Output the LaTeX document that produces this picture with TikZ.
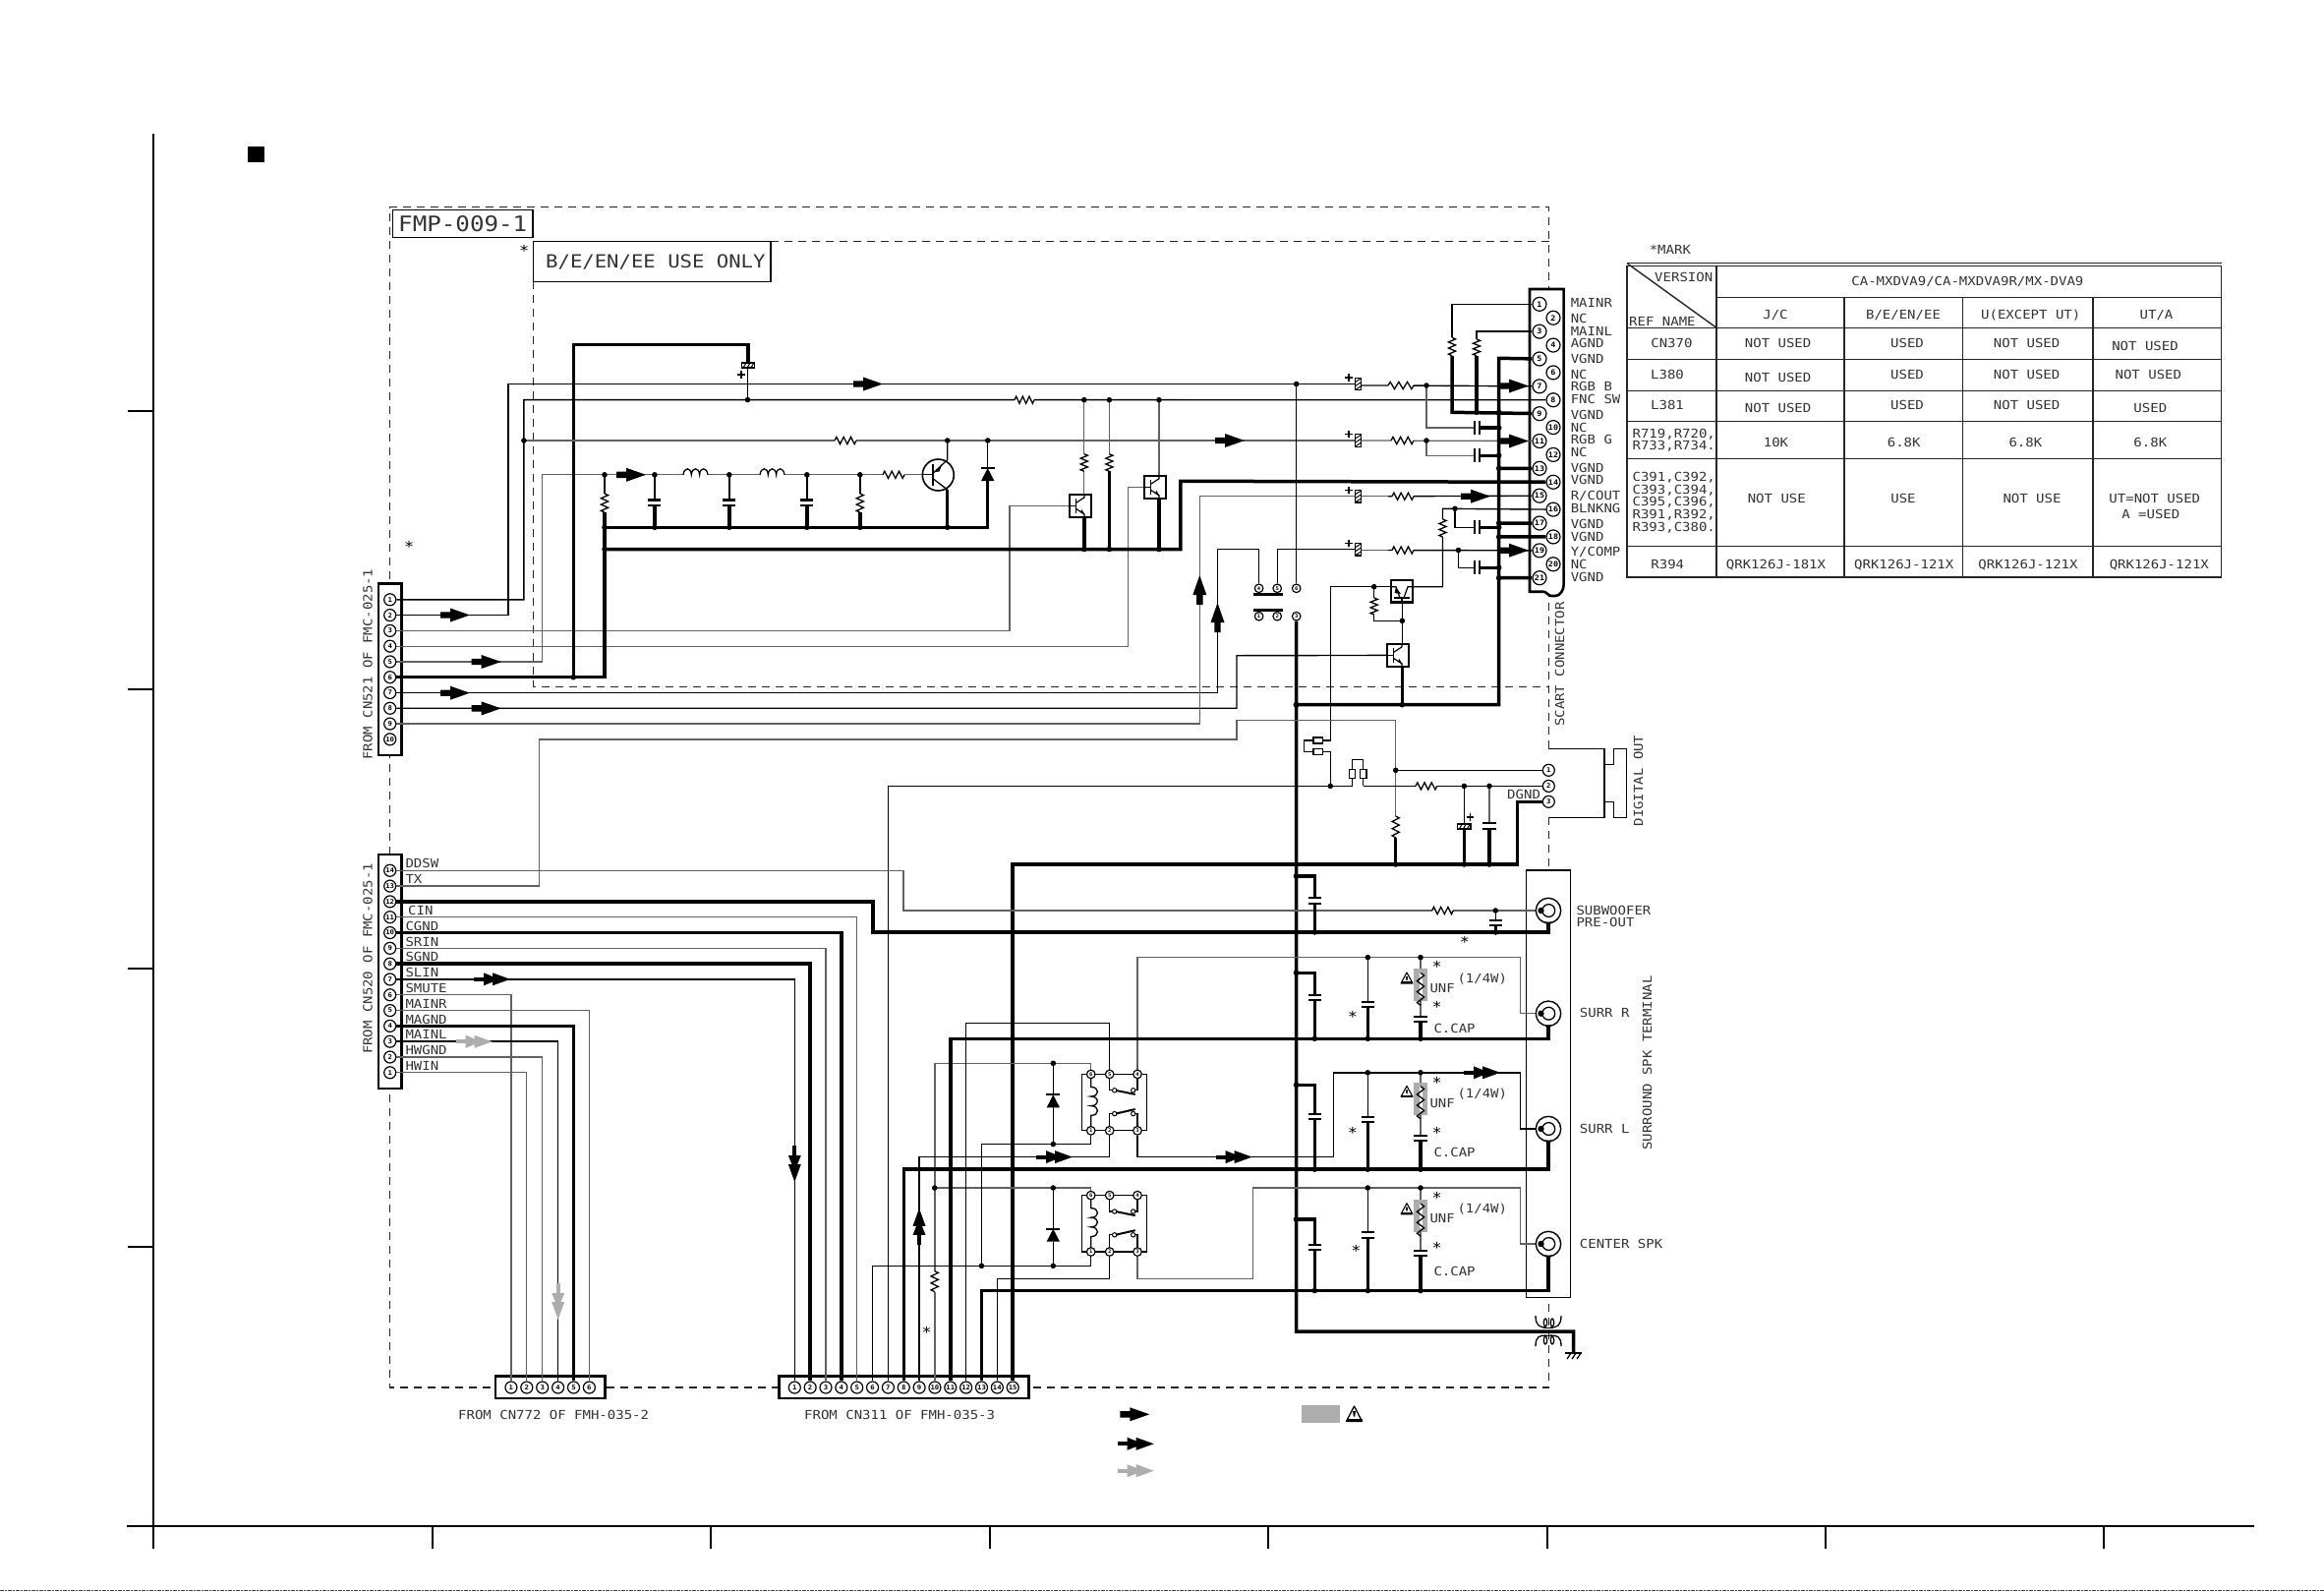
\documentclass[tikz,border=0pt]{standalone}
\usepackage{fontspec}
\setmainfont[FakeStretch=1.12]{DejaVu Sans Mono}
\pgfdeclarelayer{under}\pgfdeclarelayer{wires}\pgfsetlayers{under,wires,main}
\tikzset{
 bw/.style={line width=1.4pt,black,line join=miter},
 gw/.style={line width=1.3pt,black!62,line join=miter},
 tw/.style={line width=3.5pt,black,line join=miter},
 frameln/.style={line width=1.4pt,black!85,dash pattern=on 8pt off 6pt},
 boxln/.style={line width=2.6pt,black,fill=white},
 thinbox/.style={line width=1.5pt,black,fill=white},
 lbl/.style={inner sep=0pt,font=\fontsize{12.5}{14}\selectfont,text height=9pt,text depth=0pt,text=black!80},
 pinc/.style={circle,draw=black,line width=1.2pt,fill=white,inner sep=0pt,minimum size=12pt,font=\bfseries\fontsize{6.5}{7}\selectfont},
 spin/.style={pinc,minimum size=14pt,font=\bfseries\fontsize{7.5}{8}\selectfont},
 rpin/.style={pinc,minimum size=8.6pt,font=\bfseries\fontsize{5}{5.5}\selectfont},
 jacknode/.style={circle,draw=black,line width=1.4pt,fill=white,inner sep=0pt,minimum size=25.4pt},
 trbox/.style={rectangle,draw=black,line width=2.2pt,fill=white,inner sep=0pt,minimum width=22pt,minimum height=22.7pt},
 plate/.style={line width=2.2pt,black},
 rs/.style={line width=1.3pt,black,line join=miter},
 tbl/.style={line width=1.4pt,black!85},
}
\newcount\ztc
\newcommand\zT[4][west]{\global\advance\ztc by 1 \node[lbl,anchor=#1] (txt\the\ztc) at (#2,#3) {#4};}
\newcommand\zTr[3]{\global\advance\ztc by 1 \node[lbl,rotate=90,anchor=center] (txt\the\ztc) at (#1,#2) {#3};}
\newcommand\zStar[2]{\global\advance\ztc by 1 \node[lbl,anchor=center,yshift=-2.5pt,font=\fontsize{15}{15}\selectfont,text=black] (txt\the\ztc) at (#1,#2) {*};}
\newcommand\zJ[2]{\fill[black] (#1,#2) circle (2.8pt);}
\newcommand\zRh[3]{\pgfmathsetmacro\zzd{(#2-#1)/6}\draw[white,line width=3pt](#1,#3)--(#2,#3);\draw[rs](#1,#3)--++(\zzd/2,-3.6)--++(\zzd,7.2)--++(\zzd,-7.2)--++(\zzd,7.2)--++(\zzd,-7.2)--++(\zzd,7.2)--++(\zzd/2,-3.6);}
\newcommand\zRv[3]{\pgfmathsetmacro\zzd{(#3-#2)/6}\draw[white,line width=3pt](#1,#2)--(#1,#3);\draw[rs](#1,#2)--++(3.6,\zzd/2)--++(-7.2,\zzd)--++(7.2,\zzd)--++(-7.2,\zzd)--++(7.2,\zzd)--++(-7.2,\zzd)--++(3.6,\zzd/2);}
\newcommand\zCv[4]{\fill[white](#1-#4,#2)rectangle(#1+#4,#3);\draw[plate](#1-#4,#2)--(#1+#4,#2);\draw[plate](#1-#4,#3)--(#1+#4,#3);}
\newcommand\zCh[4]{\fill[white](#1,#3-#4)rectangle(#2,#3+#4);\draw[plate](#1,#3-#4)--(#1,#3+#4);\draw[plate](#2,#3-#4)--(#2,#3+#4);}
\newcommand\zEh[2]{\draw[fill=white,line width=1.1pt](#1,#2-6.3)rectangle(#1+6.2,#2+6.3);
 \draw[line width=1pt](#1,#2-2)--(#1+6.2,#2-6)(#1,#2+2)--(#1+6.2,#2-2)(#1,#2+6)--(#1+6.2,#2+2);
 \draw[line width=1.2pt](#1-10.5,#2-6.5)--(#1-3,#2-6.5)(#1-6.7,#2-10.2)--(#1-6.7,#2-2.8);}
\newcommand\zEv[2]{\draw[fill=white,line width=1.1pt](#1-6.7,#2)rectangle(#1+6.7,#2+5);
 \draw[line width=1pt](#1-5,#2+5)--(#1-2,#2)(#1-1,#2+5)--(#1+2,#2)(#1+3,#2+5)--(#1+6,#2);}
\newcommand\zLh[3]{\draw[white,line width=3pt](#1,#3)--(#1+25,#3);\draw[rs](#1,#3)..controls(#1+1,#3-8)and(#1+8,#3-8)..(#1+8.3,#3)..controls(#1+9,#3-8)and(#1+16,#3-8)..(#1+16.6,#3)..controls(#1+17,#3-8)and(#1+24,#3-8)..(#1+25,#3);}
\newcommand\zAS[4][black]{\begin{scope}[shift={(#2,#3)},rotate=#4]\fill[#1](0,-3.2)--(10,-3.2)--(10,-7)--(30,0)--(10,7)--(10,3.2)--(0,3.2)--cycle;\end{scope}}
\newcommand\zAD[4][black]{\begin{scope}[shift={(#2,#3)},rotate=#4]\fill[#1](0,-2)rectangle(14,2);\fill[#1](10,-6.5)--(26,0)--(10,6.5)--cycle;\fill[#1](19,-6.5)--(37,0)--(19,6.5)--cycle;\end{scope}}
\newcommand\zWarn[2]{\draw[line width=1.1pt,black,line join=round](#1,#2-6)--(#1-6,#2+5)--(#1+6,#2+5)--cycle;\fill[black](#1-1,#2-2)--(#1+1,#2-2)--(#1+0.6,#2+2)--(#1-0.6,#2+2)--cycle;\fill[black](#1-6,#2+3.2)rectangle(#1+6,#2+5.2);}
\newcommand\zQ[3]{\node[trbox] (#1) at (#2,#3) {};
 \begin{scope}[shift={(#2,#3)}]
 \draw[line width=1.2pt](-11,0)--(-4.5,0);\draw[line width=1.8pt](-4.5,-7.5)--(-4.5,7.5);
 \draw[line width=1.2pt](-4.5,-3)--(4,-8.5)--(4,-11.3);\draw[line width=1.2pt](-4.5,3)--(4,8.5)--(4,11.3);
 \fill[black](0,6.4)--(4.6,9.2)--(1.3,3.6)--cycle;
 \end{scope}}
\newcommand\zRelay[3]{\begin{scope}[shift={(#2,#3)}]
 \draw[rs](-9.5,0)--(47.3,0)(-9.5,0)--(-9.5,57.4)--(57,57.4)--(57,0)--(47.3,0);
 \draw[rs](0,0)--(0,13)..controls(9,13)and(9,22.6)..(0,22.6)..controls(9,22.6)and(9,32.2)..(0,32.2)..controls(9,32.2)and(9,42)..(0,42)--(0,57.4);
 \draw[rs](19,0)--(19,16.4)--(24,16.4)(47.3,0)--(47.3,16.4)--(43,16.4);
 \draw[rs](19,57.4)--(19,40.2)--(24,40.2)(47.3,57.4)--(47.3,40.2)--(43,40.2);
 \draw[line width=2pt](25,16.4)--(45,20.5)(25,40.2)--(45,35.6);
 \draw[line width=1pt,fill=white](24,16.4)circle(2.2pt)(43,16.4)circle(2.2pt)(24,40.2)circle(2.2pt)(43,40.2)circle(2.2pt);
 \node[rpin](#1p6)at(0,0){6};\node[rpin](#1p5)at(19,0){5};\node[rpin](#1p4)at(47.3,0){4};
 \node[rpin](#1p1)at(0,57.4){1};\node[rpin](#1p2)at(19,57.4){2};\node[rpin](#1p3)at(47.3,57.4){3};
 \end{scope}}
\newcommand\zDiode[2]{\fill[white](#1-7,#2)rectangle(#1+7,#2+13);\fill[black](#1,#2)--(#1-6.7,#2+13)--(#1+6.7,#2+13)--cycle;\draw[line width=2pt](#1-7,#2)--(#1+7,#2);}
\newcommand\zJack[3]{\node[jacknode](#1)at(#2,#3){};
 \draw[line width=1.3pt,fill=white](#2+0.3,#3)circle(6.4pt);
 \fill[black](#2-7.5,#3)circle(3.2pt);
 \fill[black](#2-4,#3+11.6)--(#2+4,#3+11.6)--(#2,#3+16)--cycle;}
\newcommand\zUNF[2]{\fill[black!32](#1-7.2,#2)rectangle(#1+7.2,#2+33);\zRv{#1}{#2+4}{#2+29}}
\begin{document}
\begin{tikzpicture}[x=1pt,y=-1pt]
\useasboundingbox (0,0) rectangle (2364,1618);
\begin{pgfonlayer}{under}
\fill[white](0,0)rectangle(2364,1618);
\draw[line width=2pt](155.8,136)--(155.8,1575);
\draw[line width=2pt](129,1552)--(2293,1552);
\foreach \yy in {418,701,985,1268}{\draw[line width=2pt](130,\yy)--(155.8,\yy);}
\foreach \xx in {439.5,722.5,1006.5,1289.5,1573.5,1856.5,2140}{\draw[line width=2pt](\xx,1552)--(\xx,1575);}
\fill[black](252,149)rectangle(269,165);
\draw[line width=1pt,black!75,dash pattern=on 4pt off 1pt on 2pt off 1pt](0,1617.3)--(2364,1617.3);
\draw[frameln](1575.5,761.3)--(1575.5,210.7)--(396.7,210.7)--(396.7,1411)--(1575.5,1411)--(1575.5,1325);
\draw[frameln](1575.5,831.3)--(1575.5,885);
\draw[frameln](783.8,245.5)--(1575.5,245.5);
\draw[frameln](542.7,286.4)--(542.7,698.2)--(1575.5,698.2);
\draw[thinbox](399.4,213.7)rectangle(542,241.7);
\draw[thinbox](542.7,245.5)rectangle(783.8,286.4);
\draw[boxln](385,593.7)rectangle(408.3,768);
\draw[boxln](385,868.8)rectangle(408.3,1106.8);
\draw[boxln](503.8,1399.6)rectangle(615.4,1421.9);
\draw[boxln](792.2,1399.6)rectangle(1046.3,1421.9);
\draw[boxln](1556,294)--(1590.6,294)--(1590.6,595)..controls(1590.6,600)and(1587,606)..(1582,606)--(1578,606)..controls(1575,606)and(1573,601.7)..(1570,601.7)--(1556,601.7)--cycle;
\draw[thinbox](1552.7,885)rectangle(1597.3,1319.3);
\draw[line width=1.5pt](1575.3,761.3)--(1632,761.3)--(1632,831.3)--(1575.3,831.3);
\draw[line width=1.5pt](1632,777.3)--(1641.7,777.3)--(1641.7,761.3)--(1654.7,761.3)--(1654.7,831.3)--(1641.7,831.3)--(1641.7,815.3)--(1632,815.3);
\end{pgfonlayer}
\foreach \i in {1,...,10}{\pgfmathsetmacro\yy{609.8+15.78*(\i-1)}\node[pinc](a\i)at(396.7,\yy){\i};}
\foreach \i in {1,...,14}{\pgfmathsetmacro\yy{1090.8-15.81*(\i-1)}\node[pinc](b\i)at(396.7,\yy){\i};}
\foreach \i in {1,...,6}{\pgfmathsetmacro\xx{519.9+15.9*(\i-1)}\node[pinc](e\i)at(\xx,1411){\i};}
\foreach \i in {1,...,15}{\pgfmathsetmacro\xx{808.3+15.85*(\i-1)}\node[pinc](c\i)at(\xx,1411){\i};}
\foreach \i in {1,...,21}{\pgfmathsetmacro\yy{309.3+13.92*(\i-1)}\pgfmathsetmacro\xx{ifthenelse(mod(\i,2)==1,1566,1580)}\node[spin](s\i)at(\xx,\yy){\i};}
\node[pinc](d1)at(1575.3,783.3){1};\node[pinc](d2)at(1575.3,799.4){2};\node[pinc](d3)at(1575.3,815.3){3};
\node[rpin](m4)at(1280.6,598.3){4};\node[rpin](m5)at(1299.2,598.3){5};\node[rpin](m6)at(1318.7,598.3){6};
\node[rpin](m1)at(1280.6,626.7){1};\node[rpin](m2)at(1299.2,626.7){2};\node[rpin](m3)at(1318.7,626.7){3};
\draw[line width=3pt](1275,604.3)--(1305,604.3)(1275,620.3)--(1305,620.3);
\zJack{js}{1575}{926}\zJack{jr}{1575}{1030.7}\zJack{jl}{1575}{1148}\zJack{jc}{1575}{1265}
\zQ{q1}{1099}{514.4}\zQ{q2}{1175}{495.3}\zQ{q3}{1422}{666.4}
\node[trbox](q4)at(1426,601.2){};
\draw[line width=1.2pt](1415,596.7)--(1420,596.7)--(1424,608)(1437,596.7)--(1432,596.7)--(1428,608);
\draw[line width=1.8pt](1418,608)--(1434,608);\draw[line width=1.2pt](1426,608)--(1426,612.3);
\fill[black](1420,597)--(1425,604)--(1418.5,603)--cycle;
\zRelay{ra}{1109.7}{1092.4}\zRelay{rb}{1109.7}{1215.6}
\begin{pgfonlayer}{wires}
\draw[bw](a1)-|(532.9,406.6)--(s8);
\draw[bw](a2)-|(516.8,390.5)--(1378,390.5);
\draw[gw](1385,392)--(1412,392);\draw[bw](1412,392)--(s7);
\draw[gw](a3)-|(1027,514.4)--(q1.west);
\draw[gw](a4)-|(1147.4,495.3)--(q2.west);
\draw[gw](a5)-|(551.6,482.8)--(938,482.8);
\draw[tw](a6)-|(615,521);
\draw[tw](615,536.3)--(1004.7,536.3)--(1004.7,488.5);
\draw[tw](615,558.5)--(1200.8,558.5)--(1200.8,489.3)--(s14);
\draw[tw](583.3,688.7)--(583.3,350.7)--(761,350.7)--(761,368);
\draw[bw](760.5,375)--(760.5,406.6);
\draw[gw](532.9,448)--(1378,448);\draw[gw](1385,448)--(s11);
\draw[bw](1004.7,448)--(1004.7,476);
\draw[bw](a7)-|(1238.5,558.7)-|(m4);
\draw[bw](a8)-|(1258,666.7)--(q3.west);
\draw[gw](a9)-|(1220.3,504.7)--(1378,504.7);
\draw[gw](1385,504.7)--(1412,504.7);\draw[bw](1412,504.7)--(s15);
\draw[bw](m5)|-(1378,558.7);
\draw[gw](1385,559.5)--(1412,559.5);\draw[bw](1412,559.5)--(s19);
\draw[bw](1318.7,390.5)--(m6);
\draw[tw](m3)--(1318.5,1354)--(1600.7,1354)--(1600.7,1376);
\draw[tw](1318.5,716.7)--(1524.7,716.7)--(1524.7,364.3)--(s5);
\draw[gw](1102.8,406.7)--(1102.8,503);
\draw[gw](1128.4,406.7)--(1128.4,461.7);
\draw[gw](1179,406.7)--(1179,484);
\draw[tw](1102.8,558.5)--(1102.8,525.7);
\draw[tw](1128.4,558.5)--(1128.4,479.3);
\draw[tw](1179,558.5)--(1179,506.7);
\draw[tw](1426.3,716.7)--(1426.3,677.7);
\draw[bw](1426.3,655)--(1426.3,612.3);
\draw[bw](1426.3,631.3)-|(1397.7,596.7);
\draw[bw](q4.west|-1415,596.7)--(1353.4,596.7)--(1353.4,753)--(1345.7,753);
\draw[bw](1437,596.7)--(1467.5,596.7)--(1467.5,517.3)--(s16);
\draw[bw](s1)-|(1477,343.3);\draw[tw](1477,361.7)--(1477,419.3)--(s9);
\draw[bw](s3)-|(1502,345);\draw[tw](1502,361.7)--(1502,419.3);
\draw[gw](1451,392)--(1451,435)--(1500,435);\draw[tw](1505,435)--(1524.7,435);
\draw[gw](1451,448)--(1451,463.3)--(1500,463.3);\draw[tw](1505,463.3)--(1524.7,463.3);
\draw[bw](1480,517.3)--(1480,536.3)--(1500,536.3);\draw[tw](1505,536.3)--(1524.7,536.3);
\draw[bw](1483.5,559.5)--(1483.5,577.3)--(1500,577.3);\draw[tw](1505,577.3)--(1524.7,577.3);
\draw[tw](1524.7,476.3)--(s13);\draw[tw](1524.7,532)--(s17);\draw[tw](1524.7,545.9)--(s18);\draw[tw](1524.7,587.7)--(s21);
\draw[gw](b13)-|(548.5,752)--(1258,752)--(1258,732.7)--(1419.7,732.7)--(1419.7,830);
\draw[tw](1419.7,851.7)--(1419.7,879);
\draw[bw](1419.7,783.3)--(d1);
\draw[bw](c7)|-(1375.7,799.4);\draw[bw](1386.7,799.4)--(d2);
\draw[bw](1345.7,764.7)--(1353.4,764.7)--(1353.4,799.4);
\draw[tw](c15)|-(1543.3,879)|-(d3);
\draw[bw](1489.3,799.4)--(1489.3,838);\draw[tw](1489.3,843)--(1489.3,879);
\draw[gw](1515,799.4)--(1515,837.3);\draw[tw](1515,843.3)--(1515,879);
\draw[gw](b14)-|(919,926)--(js);
\draw[tw](b12)-|(887.8,947.8)-|(js);
\draw[gw](b11)-|(c5);
\draw[tw](b10)-|(c4);
\draw[gw](b9)-|(c3);
\draw[tw](b8)-|(c2);
\draw[bw](b7)-|(c1);
\draw[gw](b6)-|(e1);
\draw[gw](b5)-|(e6);
\draw[tw](b4)-|(e5);
\draw[bw](b3)-|(e4);
\draw[gw](b2)-|(e3);
\draw[gw](b1)-|(e2);
\draw[bw](1521.3,926)--(1521.3,936);\draw[tw](1521.3,940.7)--(1521.3,948);
\draw[tw](1318.5,891)-|(1337.3,913.3);\draw[tw](1337.3,919)--(1337.3,948);
\draw[tw](1318.5,989.3)-|(1337.3,1012.3);\draw[tw](1337.3,1016.7)--(1337.3,1056.3);
\draw[tw](1318.5,1103.3)-|(1337.3,1132.7);\draw[tw](1337.3,1137.7)--(1337.3,1189.2);
\draw[tw](1318.5,1240)-|(1337.3,1266);\draw[tw](1337.3,1271)--(1337.3,1312.5);
\draw[gw](c10)|-(1109.7,1081.3)--(rap6);
\draw[gw](950.7,1208)--(1109.7,1208)--(rbp6);
\draw[bw](c12)|-(1128.7,1040.7)--(rap5);
\draw[bw](c9)|-(1128.7,1176.6)--(rap2);
\draw[bw](c14)|-(1128.7,1300.2)--(rbp2);
\draw[bw](c6)|-(1109.7,1287.3)--(rbp1);
\draw[bw](998.4,1287.3)|-(1109.7,1163.6)--(rap1);
\draw[bw](1071.3,1081.3)--(1071.3,1163.6);
\draw[bw](1071.3,1208)--(1071.3,1287.3);
\draw[gw](rap4)|-(1546.7,973.6)|-(jr);
\draw[bw](rap3)|-(1356.7,1176.6)|-(1546.7,1090.8)|-(jl);
\draw[gw](rbp3)|-(1274.3,1300.2)|-(1546.7,1208)|-(jc);
\draw[tw](c11)|-(1575,1056.3)--(jr);
\draw[tw](c8)|-(1575,1189.2)--(jl);
\draw[tw](c13)|-(1575,1312.5)--(jc);
\foreach \ya/\yb/\yc/\yd/\ye/\yf in {973.6/1019/1023.7/1056.3/1034.3/1039.3,1090.8/1136/1141/1189.2/1155/1160,1208/1253.3/1258.7/1312.5/1272.3/1276.7}{
 \draw[bw](1391.3,\ya)--(1391.3,\yb);\draw[tw](1391.3,\yc)--(1391.3,\yd);
 \draw[gw](1445,\ya)--(1445,\ye);\draw[tw](1445,\yf)--(1445,\yd);
}
\end{pgfonlayer}
\zRh{1032}{1052}{406.7}
\zRh{849}{871}{448}
\zRh{898}{920}{482.8}
\zLh{695}{482.8}{482.8}\zLh{773}{482.8}{482.8}
\foreach \xx in {665.9,741.8,820.8}{\draw[bw](\xx,482.8)--(\xx,510);\zCv{\xx}{508.4}{514}{6.5}\draw[tw](\xx,514)--(\xx,536.3);\zJ{\xx}{482.8}\zJ{\xx}{536.3}}
\foreach \xx in {615,874.8}{\draw[bw](\xx,482.8)--(\xx,502);\zRv{\xx}{502}{521}\zJ{\xx}{482.8}}
\draw[tw](874.8,521)--(874.8,536.3);
\zJ{874.8}{536.3}\zJ{615}{536.3}\zJ{615}{558.5}\zJ{583.3}{688.7}\zJ{532.9}{448}\zJ{760.5}{406.6}
\zEv{761}{369}
\draw[line width=1.2pt](750.3,381)--(757.7,381)(754,377.3)--(754,384.7);
\draw[line width=1.6pt,fill=white](954.3,483)circle(16pt);
\draw[rs](938,482.8)--(949.4,482.8);\draw[line width=2pt](949.4,472)--(949.4,494);
\draw[rs](949.4,481)--(963.7,467.5)--(963.7,448);\draw[rs](949.4,487)--(963.7,498);
\draw[tw](963.7,498)--(963.7,536.3);
\fill[black](950.5,480)--(958,473)--(955.5,479.5)--cycle;
\zJ{963.7}{448}\zJ{1004.7}{448}\zJ{963.7}{536.3}
\zDiode{1004.7}{476}
\foreach \xx in {1102.8,1128.4,1179}{\zJ{\xx}{406.7}\zJ{\xx}{558.5}}
\zRv{1102.8}{461.7}{479.3}\zRv{1128.4}{461.7}{479.3}
\zJ{1318.7}{390.5}
\zEh{1378.6}{390.5}\zEh{1378.6}{448}\zEh{1378.6}{504.7}\zEh{1378.6}{558.7}
\zRh{1412}{1438}{392}\zRh{1415}{1438}{448}\zRh{1416}{1438}{504.7}\zRh{1416}{1438}{559.5}
\zJ{1451}{392}\zJ{1451}{448}\zJ{1480}{517.3}\zJ{1483.5}{559.5}
\foreach \yy in {435,463.3,536.3,577.3}{\zCh{1500}{1505.2}{\yy}{7}\zJ{1524.7}{\yy}}
\foreach \yy in {419.3,476.3,532,545.9,587.7}{\zJ{1524.7}{\yy}}
\zJ{1502}{419.3}
\zRv{1477}{343.3}{361.7}\zRv{1502}{345}{361.7}
\zRv{1467.5}{528}{546}\zRv{1397.7}{608}{625}
\zJ{1426.3}{631.3}\zJ{1397.7}{596.7}\zJ{1318.5}{716.7}\zJ{1426.3}{716.7}
\foreach \yy in {753,764.7}{\draw[rs,fill=white](1336,\yy-3)rectangle(1345.7,\yy+3);}
\draw[rs](1336,753)--(1326.7,753)--(1326.7,764.7)--(1336,764.7);
\draw[rs](1375.7,782.7)--(1375.7,772.7)--(1386.7,772.7)--(1386.7,782.7);
\draw[rs](1375.7,791.7)--(1375.7,799.4)(1386.7,791.7)--(1386.7,799.4);
\draw[rs,fill=white](1372.7,782.7)rectangle(1378.7,791.7);\draw[rs,fill=white](1383.5,782.7)rectangle(1390,791.7);
\draw[white,line width=3pt](1376.7,799.4)--(1385.7,799.4);
\zJ{1353.3}{799.4}\zJ{1419.7}{783.3}
\zRh{1440}{1461.7}{799.4}\zRv{1419.7}{830}{851.7}
\zEv{1489.3}{838}\zCv{1515}{837.3}{843.3}{6.7}
\draw[line width=1.2pt](1491.8,831)--(1499.2,831)(1495.5,827.3)--(1495.5,834.7);
\foreach \xx in {1489.3,1515}{\zJ{\xx}{799.4}\zJ{\xx}{879}}\zJ{1419.7}{879}
\zRh{1456.7}{1478.3}{926}\zCv{1521.3}{936}{940.7}{6.7}\zJ{1521.3}{926}\zJ{1521.3}{948}
\foreach \yy in {716.7,891,989.3,1103.3,1240}{\zJ{1318.5}{\yy}}
\zCv{1337.3}{913.3}{919}{6.5}\zCv{1337.3}{1012.3}{1016.7}{6.5}\zCv{1337.3}{1132.7}{1137.7}{6.5}\zCv{1337.3}{1266}{1271}{6.5}
\foreach \yy in {948,1056.3,1189.2,1312.5}{\zJ{1337.3}{\yy}}
\foreach \ya/\yb/\yc/\yd/\ye/\yf/\yr in {973.6/1019/1023.7/1056.3/1034.3/1039.3/985.3,1090.8/1136/1141/1189.2/1155/1160/1100.7,1208/1253.3/1258.7/1312.5/1272.3/1276.7/1220}{
 \zJ{1391.3}{\ya}\zJ{1445}{\ya}\zJ{1391.3}{\yd}\zJ{1445}{\yd}
 \zCv{1391.3}{\yb}{\yc}{6.7}\zCv{1445}{\ye}{\yf}{6.7}
 \zUNF{1445}{\yr}
 \pgfmathsetmacro\ww{\yr+9.7}\zWarn{1431}{\ww}
}
\foreach \xx/\yy in {1071.3/1081.3,1071.3/1163.6,1071.3/1208,1071.3/1287.3,950.7/1208,998.4/1287.3}{\zJ{\xx}{\yy}}
\zDiode{1071.3}{1113.4}\zDiode{1071.3}{1249.7}
\zRv{950.7}{1292.6}{1313.6}
\draw[line width=1.6pt](1592,1376)--(1609.3,1376);
\foreach \xx in {1598,1603,1608}{\draw[line width=1.2pt](\xx,1376)--(\xx-4,1382);}
\draw[rs](1562,1338)..controls(1562,1348)and(1566,1350)..(1573,1350)(1588,1338)..controls(1588,1348)and(1584,1350)..(1577,1350);
\draw[rs](1562,1369)..controls(1562,1359)and(1566,1358)..(1573,1358)(1588,1369)..controls(1588,1359)and(1584,1358)..(1577,1358);
\draw[rs](1572,1345)ellipse(1.7pt and 4pt)(1579,1345)ellipse(1.7pt and 4pt)(1572,1363)ellipse(1.7pt and 4pt)(1579,1363)ellipse(1.7pt and 4pt);
\draw[line width=1pt](1570,1350)--(1580,1350)(1570,1358)--(1580,1358);
\foreach \xx/\yy in {448/625.5,479.7/673,448/704.7,479.7/720.4,868/390.5,627/482.8,1236/448,1525/392.5,1525/448.5,1486/504.7,1525/559.7,1139.3/1438.3}{\zAS{\xx}{\yy}{0}}
\zAS{1220.3}{615}{90}\zAS{1238.5}{643}{90}
\foreach \xx/\yy in {482/995.8,1054/1176.6,1236.7/1176.6,1489/1090.8,1136.7/1468.3}{\zAD{\xx}{\yy}{0}}
\zAD{808.3}{1165}{-90}\zAD{935}{1265.8}{90}
\zAD[black!32]{463.7}{1059.3}{0}\zAD[black!32]{567.7}{1305}{-90}\zAD[black!32]{1136.7}{1495.7}{0}
\fill[black!32](1324,1429)rectangle(1362.7,1446.7);
\begin{scope}[shift={(1377.5,1438)}]\draw[line width=1.3pt,line join=round](0,-8)--(-8,7.5)--(8,7.5)--cycle;\fill[black](-1.4,-3)--(1.4,-3)--(0.7,2.5)--(-0.7,2.5)--cycle;\fill[black](-8,5)rectangle(8,8);\end{scope}
\node[lbl,anchor=west,font=\fontsize{21.6}{24}\selectfont,text height=15pt](fmp)at(405,227.5){FMP-009-1};
\node[lbl,anchor=west,font=\fontsize{18.4}{20}\selectfont,text height=13pt](only)at(555,265.5){B/E/EN/EE USE ONLY};
\zStar{533.3}{253}\zStar{416.3}{554.3}\zStar{1461.7}{981.7}\zStar{1461.7}{1022.7}\zStar{1461.7}{1099}\zStar{1461.7}{1150}\zStar{1461.7}{1216}\zStar{1461.7}{1267}
\zStar{1376}{1032.7}\zStar{1376}{1150}\zStar{1379.3}{1270.3}\zStar{1490}{956.5}\zStar{942.7}{1353.4}
\zTr{374}{675.5}{FROM CN521 OF FMC-025-1}
\zTr{374}{975}{FROM CN520 OF FMC-025-1}
\zTr{1586.7}{675.5}{SCART CONNECTOR}
\zTr{1666.7}{794}{DIGITAL OUT}
\zTr{1675.7}{1081}{SURROUND SPK TERMINAL}
\foreach \yy/\tt in {308/MAINR,323.7/NC,336.7/MAINL,349.3/AGND,365/VGND,380.7/NC,393.3/RGB B,406.3/FNC SW,421.7/VGND,434.7/NC,447.3/RGB G,460/NC,475.7/VGND,488.3/VGND,504.3/R\slash COUT,516.7/BLNKNG,532.7/VGND,545.7/VGND,561/Y\slash COMP,574/NC,586.7/VGND}{\zT{1597.6}{\yy}{\tt}}
\foreach \yy/\tt in {878/DDSW,893.5/TX,941.5/CGND,957.5/SRIN,973/SGND,989/SLIN,1004.5/SMUTE,1020.5/MAINR,1036.5/MAGND,1052/MAINL,1068/HWGND,1084/HWIN}{\zT{412.3}{\yy}{\tt}}
\zT{415}{925.5}{CIN}
\zT{466}{1439}{FROM CN772 OF FMH-035-2}
\zT{818}{1439}{FROM CN311 OF FMH-035-3}
\zT{1533}{808}{DGND}
\zT{1603.3}{925.7}{SUBWOOFER}\zT{1603.3}{938.3}{PRE-OUT}
\zT{1606.7}{1030}{SURR R}\zT{1606.7}{1147.7}{SURR L}\zT{1606.7}{1264.7}{CENTER SPK}
\foreach \yy in {1005,1121.7,1239}{\zT{1454.3}{\yy}{UNF}}
\foreach \yy in {995,1112.3,1229.3}{\zT{1482.3}{\yy}{(1/4W)}}
\foreach \yy in {1045.7,1172.3,1292.7}{\zT{1458.3}{\yy}{C.CAP}}
\draw[tbl](1655,267.7)--(2259.6,267.7);
\draw[tbl](1655,270.7)rectangle(2259.6,587);
\draw[tbl](1746,270.7)--(1746,587);
\draw[tbl](1746,302.3)--(2259.6,302.3);
\foreach \yy in {333.3,365.3,397.3,428.3,466.7,555.3}{\draw[tbl](1655,\yy)--(2259.6,\yy);}
\foreach \xx in {1876,1996.3,2129}{\draw[tbl](\xx,302.3)--(\xx,587);}
\draw[tbl](1655,267.7)--(1746,333.3);
\zT{1677.6}{254}{*MARK}
\zT{1683}{282.3}{VERSION}\zT{1657}{327}{REF NAME}
\zT[center]{2001.4}{285.7}{CA-MXDVA9/CA-MXDVA9R/MX-DVA9}
\zT[center]{1806}{320.3}{J/C}\zT[center]{1936}{320.3}{B/E/EN/EE}\zT[center]{2065.7}{320.3}{U(EXCEPT UT)}\zT[center]{2193.5}{320.3}{UT/A}
\zT[center]{1700.4}{349}{CN370}\zT[center]{1696}{380.7}{L380}\zT[center]{1696}{412.3}{L381}
\zT[center]{1808.6}{349}{NOT USED}\zT[center]{1940}{349}{USED}\zT[center]{2061.6}{349}{NOT USED}\zT[center]{2182}{352}{NOT USED}
\zT[center]{1808.6}{383.7}{NOT USED}\zT[center]{1940}{380.7}{USED}\zT[center]{2061.6}{380.7}{NOT USED}\zT[center]{2185.3}{380.7}{NOT USED}
\zT[center]{1808.6}{415.3}{NOT USED}\zT[center]{1940}{412.3}{USED}\zT[center]{2061.6}{412.3}{NOT USED}\zT[center]{2187.3}{415.3}{USED}
\zT{1660.4}{440.7}{R719,R720,}\zT{1660.4}{453.3}{R733,R734.}
\zT[center]{1806.5}{450.3}{10K}\zT[center]{1936.7}{450.3}{6.8K}\zT[center]{2060.4}{450.3}{6.8K}\zT[center]{2187.3}{450.3}{6.8K}
\zT{1660.4}{485}{C391,C392,}\zT{1660.4}{497.7}{C393,C394,}\zT{1660.4}{510.3}{C395,C396,}\zT{1660.4}{523.3}{R391,R392,}\zT{1660.4}{536}{R393,C380.}
\zT[center]{1807.3}{507.3}{NOT USE}\zT[center]{1936}{507.3}{USE}\zT[center]{2067}{507.3}{NOT USE}\zT[center]{2191.8}{507.3}{UT=NOT USED}\zT[center]{2187.8}{523.3}{A =USED}
\zT[center]{1696.3}{574}{R394}\zT[center]{1806.5}{574}{QRK126J-181X}\zT[center]{1936.7}{574}{QRK126J-121X}\zT[center]{2063}{574}{QRK126J-121X}\zT[center]{2196.3}{574}{QRK126J-121X}
\end{tikzpicture}
\end{document}
